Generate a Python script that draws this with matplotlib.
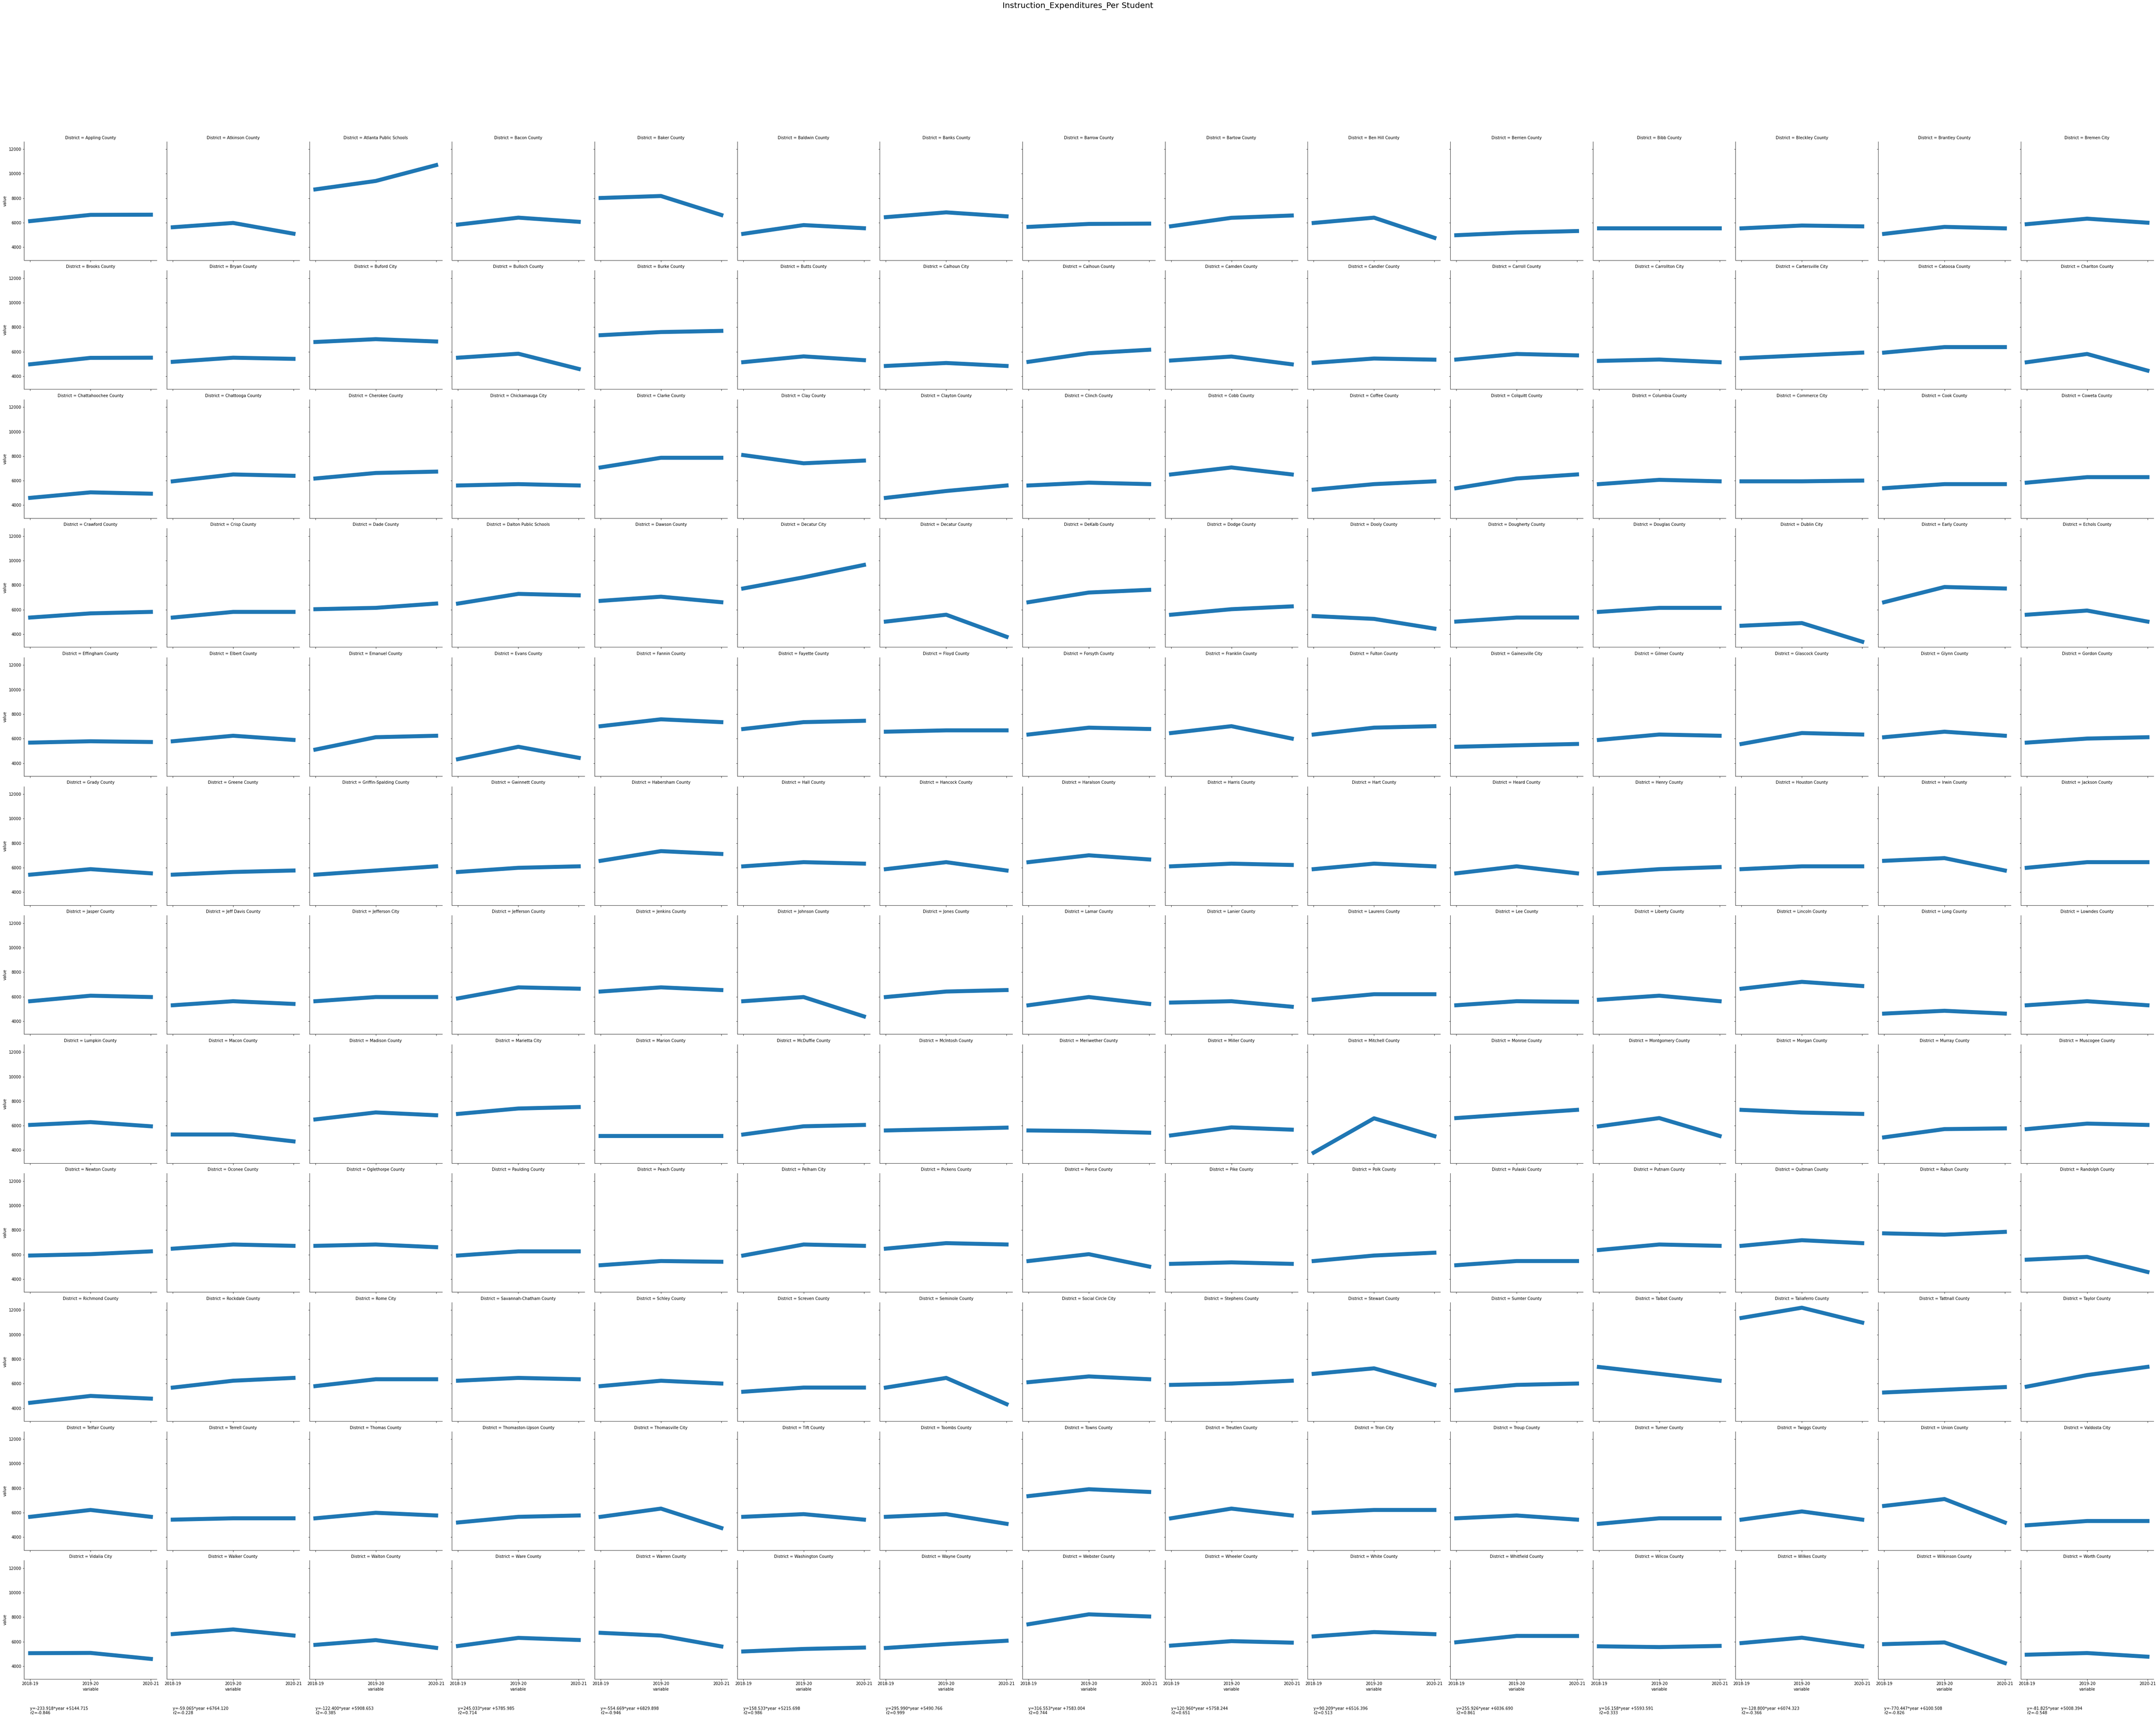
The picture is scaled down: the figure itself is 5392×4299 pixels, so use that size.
import matplotlib
matplotlib.use("Agg")
import matplotlib.pyplot as plt
import matplotlib.transforms as mtransforms

years = ["2018-19", "2019-20", "2020-21"]

districts = [
    "Appling County", "Atkinson County", "Atlanta Public Schools", "Bacon County", "Baker County",
    "Baldwin County", "Banks County", "Barrow County", "Bartow County", "Ben Hill County",
    "Berrien County", "Bibb County", "Bleckley County", "Brantley County", "Bremen City",
    "Brooks County", "Bryan County", "Buford City", "Bulloch County", "Burke County",
    "Butts County", "Calhoun City", "Calhoun County", "Camden County", "Candler County",
    "Carroll County", "Carrollton City", "Cartersville City", "Catoosa County", "Charlton County",
    "Chattahoochee County", "Chattooga County", "Cherokee County", "Chickamauga City", "Clarke County",
    "Clay County", "Clayton County", "Clinch County", "Cobb County", "Coffee County",
    "Colquitt County", "Columbia County", "Commerce City", "Cook County", "Coweta County",
    "Crawford County", "Crisp County", "Dade County", "Dalton Public Schools", "Dawson County",
    "Decatur City", "Decatur County", "DeKalb County", "Dodge County", "Dooly County",
    "Dougherty County", "Douglas County", "Dublin City", "Early County", "Echols County",
    "Effingham County", "Elbert County", "Emanuel County", "Evans County", "Fannin County",
    "Fayette County", "Floyd County", "Forsyth County", "Franklin County", "Fulton County",
    "Gainesville City", "Gilmer County", "Glascock County", "Glynn County", "Gordon County",
    "Grady County", "Greene County", "Griffin-Spalding County", "Gwinnett County", "Habersham County",
    "Hall County", "Hancock County", "Haralson County", "Harris County", "Hart County",
    "Heard County", "Henry County", "Houston County", "Irwin County", "Jackson County",
    "Jasper County", "Jeff Davis County", "Jefferson City", "Jefferson County", "Jenkins County",
    "Johnson County", "Jones County", "Lamar County", "Lanier County", "Laurens County",
    "Lee County", "Liberty County", "Lincoln County", "Long County", "Lowndes County",
    "Lumpkin County", "Macon County", "Madison County", "Marietta City", "Marion County",
    "McDuffie County", "McIntosh County", "Meriwether County", "Miller County", "Mitchell County",
    "Monroe County", "Montgomery County", "Morgan County", "Murray County", "Muscogee County",
    "Newton County", "Oconee County", "Oglethorpe County", "Paulding County", "Peach County",
    "Pelham City", "Pickens County", "Pierce County", "Pike County", "Polk County",
    "Pulaski County", "Putnam County", "Quitman County", "Rabun County", "Randolph County",
    "Richmond County", "Rockdale County", "Rome City", "Savannah-Chatham County", "Schley County",
    "Screven County", "Seminole County", "Social Circle City", "Stephens County", "Stewart County",
    "Sumter County", "Talbot County", "Taliaferro County", "Tattnall County", "Taylor County",
    "Telfair County", "Terrell County", "Thomas County", "Thomaston-Upson County", "Thomasville City",
    "Tift County", "Toombs County", "Towns County", "Treutlen County", "Trion City",
    "Troup County", "Turner County", "Twiggs County", "Union County", "Valdosta City",
    "Vidalia City", "Walker County", "Walton County", "Ware County", "Warren County",
    "Washington County", "Wayne County", "Webster County", "Wheeler County", "White County",
    "Whitfield County", "Wilcox County", "Wilkes County", "Wilkinson County", "Worth County",
]

v_2018_19 = [
    6130, 5630, 8717, 5846, 8016, 5092, 6453, 5658, 5712, 5981, 4980, 5540, 5540, 5090, 5880,
    4972, 5174, 6793, 5511, 7347, 5147, 4837, 5174, 5282, 5093, 5360, 5250, 5475, 5925, 5140,
    4600, 5950, 6180, 5610, 7080, 8090, 4600, 5610, 6510, 5270, 5390, 5720, 5950, 5390, 5840,
    5360, 5360, 6040, 6500, 6720, 7730, 5030, 6610, 5590, 5480, 5030, 5820, 4690, 6610, 5590,
    5680, 5790, 5110, 4330, 7020, 6790, 6570, 6340, 6460, 6340, 5340, 5900, 5570, 6120, 5680,
    5430, 5430, 5430, 5650, 6560, 6110, 5880, 6450, 6110, 5880, 5540, 5540, 5880, 6560, 5990,
    5630, 5300, 5630, 5860, 6420, 5630, 5970, 5300, 5520, 5750, 5300, 5750, 6650, 4620, 5300,
    6060, 5280, 6510, 6960, 5160, 5280, 5610, 5610, 5206, 3800, 6620, 5950, 7290, 5050, 5720,
    5930, 6490, 6720, 5930, 5140, 5930, 6490, 5480, 5250, 5480, 5140, 6380, 6720, 7740, 5590,
    4440, 5680, 5800, 6240, 5800, 5340, 5680, 6120, 5900, 6800, 5450, 7360, 11360, 5280, 5756,
    5660, 5430, 5540, 5200, 5660, 5660, 5660, 7350, 5540, 5990, 5540, 5090, 5430, 6550, 4970,
    5060, 6619, 5739, 5647, 6720, 5200, 5483, 7419, 5677, 6429, 5949, 5620, 5885, 5797, 4936,
]

v_2019_20 = [
    6640, 5980, 9404, 6412, 8178, 5806, 6844, 5900, 6399, 6412, 5200, 5540, 5770, 5660, 6330,
    5498, 5511, 7023, 5835, 7603, 5619, 5080, 5876, 5606, 5444, 5815, 5360, 5700, 6375, 5815,
    5050, 6510, 6630, 5720, 7870, 7420, 5160, 5840, 7080, 5720, 6180, 6070, 5950, 5720, 6290,
    5700, 5820, 6150, 7290, 7060, 8640, 5590, 7400, 6040, 5250, 5360, 6150, 4910, 7850, 5930,
    5790, 6240, 6120, 5340, 7580, 7350, 6680, 6900, 7020, 6900, 5460, 6340, 6460, 6570, 6010,
    5880, 5650, 5770, 5990, 7350, 6450, 6450, 7010, 6330, 6330, 6110, 5880, 6110, 6780, 6450,
    6080, 5630, 5970, 6760, 6760, 5970, 6420, 5970, 5630, 6200, 5630, 6080, 7210, 4850, 5630,
    6290, 5280, 7080, 7400, 5160, 5950, 5720, 5555, 5860, 6600, 6960, 6620, 7070, 5720, 6170,
    6040, 6830, 6830, 6270, 5480, 6830, 6940, 6040, 5370, 5930, 5480, 6830, 7180, 7630, 5820,
    5000, 6240, 6360, 6470, 6240, 5680, 6470, 6590, 6010, 7250, 5900, 6800, 12195, 5500, 6700,
    6220, 5540, 5990, 5660, 6330, 5880, 5880, 7910, 6330, 6220, 5770, 5540, 6100, 7110, 5320,
    5081, 6996, 6125, 6308, 6495, 5405, 5802, 8228, 6042, 6781, 6467, 5557, 6324, 5937, 5071,
]

v_2020_21 = [
    6655, 5105, 10698, 6075, 6628, 5550, 6520, 5927, 6588, 4768, 5320, 5540, 5700, 5540, 6000,
    5511, 5417, 6834, 4594, 7698, 5309, 4837, 6159, 4972, 5350, 5700, 5140, 5925, 6375, 4460,
    4940, 6400, 6740, 5610, 7870, 7640, 5610, 5720, 6510, 5950, 6510, 5950, 6010, 5720, 6290,
    5820, 5820, 6500, 7170, 6610, 9650, 3790, 7620, 6270, 4460, 5360, 6150, 3390, 7730, 5030,
    5730, 5900, 6240, 4440, 7350, 7460, 6680, 6790, 6010, 7020, 5570, 6240, 6340, 6240, 6120,
    5540, 5770, 6110, 6110, 7120, 6330, 5770, 6670, 6220, 6110, 5540, 6050, 6110, 5770, 6450,
    5970, 5410, 5970, 6650, 6540, 4390, 6540, 5410, 5180, 6200, 5580, 5630, 6870, 4620, 5300,
    5950, 4720, 6850, 7520, 5160, 6060, 5840, 5425, 5673, 5150, 7290, 5160, 6960, 5780, 6060,
    6270, 6720, 6610, 6270, 5420, 6720, 6830, 5030, 5250, 6160, 5480, 6720, 6940, 7860, 4590,
    4780, 6470, 6360, 6360, 6010, 5680, 4330, 6360, 6240, 5900, 6010, 6240, 10980, 5720, 7370,
    5660, 5540, 5770, 5770, 4750, 5430, 5090, 7690, 5770, 6220, 5430, 5540, 5430, 5200, 5320,
    4592, 6500, 5494, 6137, 5611, 5517, 6074, 8052, 5919, 6610, 6461, 5652, 5628, 4256, 4773,
]

fit_labels = [
    "y=-233.918*year +5144.715\nr2=-0.846",
    "y=-59.065*year +6764.120\nr2=-0.228",
    "y=-122.400*year +5908.653\nr2=-0.385",
    "y=245.033*year +5785.985\nr2=0.714",
    "y=-554.669*year +6829.898\nr2=-0.946",
    "y=158.533*year +5215.698\nr2=0.986",
    "y=295.990*year +5490.766\nr2=0.999",
    "y=316.553*year +7583.004\nr2=0.744",
    "y=120.960*year +5758.244\nr2=0.651",
    "y=90.209*year +6516.396\nr2=0.513",
    "y=255.926*year +6036.690\nr2=0.861",
    "y=16.158*year +5593.591\nr2=0.333",
    "y=-128.800*year +6074.323\nr2=-0.366",
    "y=-770.447*year +6100.508\nr2=-0.826",
    "y=-81.825*year +5008.394\nr2=-0.548",
]

y_ticks = [4000, 6000, 8000, 10000, 12000]

DPI = 72
W, H = 5392, 4299
plt.rcParams["font.family"] = ["DejaVu Sans"]
plt.rcParams["font.size"] = 10
fig = plt.figure(figsize=(W / DPI, H / DPI), dpi=DPI)

ncol = 15
nrow = (len(districts) + ncol - 1) // ncol
ax_w, ax_h = 332.2, 297.0
left0, pitch_x = 60.3, 356.66
top0, pitch_y = 353.5, 322.6

first = None
for i, name in enumerate(districts):
    r, c = divmod(i, ncol)
    l = left0 + c * pitch_x
    t = top0 + r * pitch_y
    ax = fig.add_axes([l / W, 1 - (t + ax_h) / H, ax_w / W, ax_h / H],
                      sharex=first, sharey=first)
    if first is None:
        first = ax
    ax.plot(years, [v_2018_19[i], v_2019_20[i], v_2020_21[i]],
            color="#1f77b4", linewidth=10)
    ax.set_title(f"District = {name}", fontsize=10)
    ax.spines["top"].set_visible(False)
    ax.spines["right"].set_visible(False)
    ax.set_yticks(y_ticks)
    ax.tick_params(labelsize=10)
    if c != 0:
        ax.tick_params(labelleft=False)
    else:
        ax.set_ylabel("value", fontsize=10)
    if r != nrow - 1:
        ax.tick_params(labelbottom=False)
    else:
        ax.set_xlabel("variable", fontsize=10)
        trans = mtransforms.blended_transform_factory(ax.transData, ax.transAxes)
        ax.text(0, -0.233, fit_labels[c], transform=trans, va="top", ha="left",
                fontsize=10, linespacing=1.05)

fig.suptitle("Instruction_Expenditures_Per Student", fontsize=20,
             y=1 - 15 / H, va="center")

fig.savefig("out.png", dpi=DPI)
